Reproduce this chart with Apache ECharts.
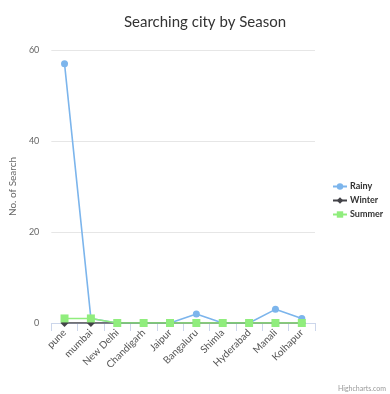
<!DOCTYPE html>
<html><head><meta charset="utf-8">
<script src="https://cdn.jsdelivr.net/npm/echarts@6/dist/echarts.min.js"></script>
<style>html,body{margin:0;padding:0;background:#fff}#c{width:390px;height:394px}</style>
</head><body><div id="c"></div>
<script>
const categories = ['pune','mumbai','New Delhi','Chandigarh','Jaipur','Bangaluru','Shimla','Hyderabad','Manali','Kolhapur'];
const rainy  = [57, 1, 0, 0, 0, 2, 0, 0, 3, 1];
const winter = [0, 0, 0, 0, 0, 0, 0, 0, 0, 0];
const summer = [1, 1, 0, 0, 0, 0, 0, 0, 0, 0];
const yTicks = [0, 20, 40, 60];

const chart = echarts.init(document.getElementById('c'));
const font = 'Lato, "Open Sans", sans-serif';
chart.setOption({
  animation: false,
  title: {text: 'Searching city by Season', left: 200, top: 10, textAlign: 'center',
    textStyle: {fontSize: 15, fontWeight: 'normal', color: '#333', fontFamily: font}},
  legend: {orient: 'vertical', left: 327, top: 177, itemGap: 5, itemWidth: 14, itemHeight: 8,
    textStyle: {fontSize: 9, fontWeight: 'bold', color: '#333', fontFamily: font, padding: [0,0,0,-2]},
    data: ['Rainy','Winter','Summer']},
  grid: {left: 50, right: 75, top: 50, bottom: 71},
  xAxis: {type: 'category', data: categories, boundaryGap: true,
    axisLine: {lineStyle: {color: '#ccd6eb'}},
    axisTick: {show: true, lineStyle: {color: '#ccd6eb'}, length: 8},
    axisLabel: {rotate: 45, fontSize: 10, color: '#555', fontFamily: font, margin: 8}},
  yAxis: {type: 'value', min: 0, max: 60, interval: 20,
    name: 'No. of Search', nameLocation: 'middle', nameGap: 33, nameRotate: 90,
    nameTextStyle: {fontSize: 10, color: '#666', fontFamily: font},
    axisLine: {show: false}, axisTick: {show: false},
    axisLabel: {fontSize: 9, color: '#666', fontFamily: font, margin: 12, formatter: v => yTicks.includes(v) ? String(v) : ''},
    splitLine: {lineStyle: {color: '#e6e6e6'}}},
  series: [
    {name: 'Rainy', type: 'line', data: rainy, color: '#7cb5ec', symbol: 'circle', symbolSize: 7, lineStyle: {width: 1.6}},
    {name: 'Winter', type: 'line', data: winter, color: '#434348', symbol: 'diamond', symbolSize: 8, lineStyle: {width: 1.6}},
    {name: 'Summer', type: 'line', data: summer, color: '#90ed7d', symbol: 'rect', symbolSize: 8, lineStyle: {width: 1.6}}
  ],
  graphic: [{type: 'text', right: 4, bottom: 2, style: {text: 'Highcharts.com', fontSize: 7, fill: '#999', fontFamily: font}}]
});
</script></body></html>
